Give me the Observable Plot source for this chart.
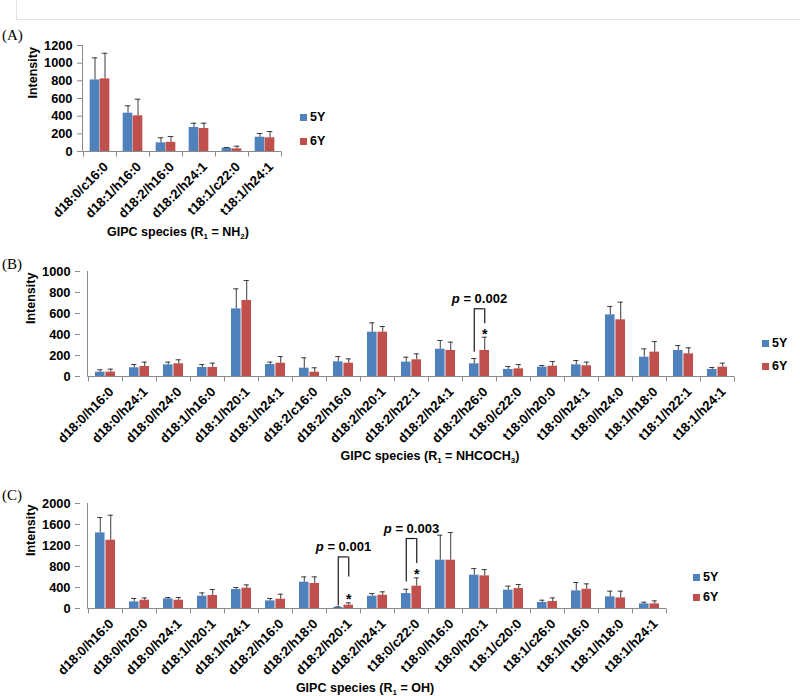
<!DOCTYPE html>
<html><head><meta charset="utf-8">
<script src="https://cdn.jsdelivr.net/npm/d3@7"></script>
<script src="https://cdn.jsdelivr.net/npm/@observablehq/plot@0.6"></script>
<style>
body{margin:0;background:#fff;}
#root{position:relative;width:800px;height:696px;overflow:hidden;font-family:"Liberation Sans",Arial,sans-serif;background:#fff;}
#root svg{position:absolute;left:0;overflow:visible;}
.plab{position:absolute;font-family:"Liberation Serif","Times New Roman",serif;font-size:15px;color:#000;transform:translateY(-50%);}
.xt{position:absolute;font-weight:bold;font-size:12.5px;transform:translate(-50%,-50%);white-space:nowrap;color:#000;}
.xt sub{font-size:8px;vertical-align:-3px;line-height:0;}
.leg{position:absolute;font-weight:bold;font-size:12.5px;display:flex;align-items:center;transform:translateY(-50%);color:#000;}
.leg i{display:inline-block;width:7px;height:7px;margin-right:3px;}
.hline{position:absolute;left:16px;top:19px;width:784px;height:1px;background:#e2e2e2;}
.vline{position:absolute;left:16px;top:0;width:1px;height:19px;background:#e2e2e2;}
</style></head>
<body><div id="root"></div>
<script>
// ---------- Data ----------
const series = ["5Y", "6Y"];

// (A) R1 = NH2
const catsA = ["d18:0/c16:0","d18:1/h16:0","d18:2/h16:0","d18:2/h24:1","t18:1/c22:0","t18:1/h24:1"];
const a5  = [810, 434, 98, 272, 37, 162];
const a5e = [250, 83, 57, 48, 8, 42];
const a6  = [822, 404, 104, 260, 30, 155];
const a6e = [290, 188, 66, 60, 30, 71];

// (B) R1 = NHCOCH3
const catsB = ["d18:0/h16:0","d18:0/h24:1","d18:0/h24:0","d18:1/h16:0","d18:1/h20:1","d18:1/h24:1","d18:2/c16:0","d18:2/h16:0","d18:2/h20:1","d18:2/h22:1","d18:2/h24:1","d18:2/h26:0","t18:0/c22:0","t18:0/h20:0","t18:0/h24:1","t18:0/h24:0","t18:1/h18:0","t18:1/h22:1","t18:1/h24:1"];
const b5  = [41, 83, 111, 86, 644, 114, 79, 140, 422, 137, 260, 121, 67, 89, 111, 587, 184, 248, 67];
const b5e = [23, 31, 26, 28, 191, 23, 99, 50, 89, 47, 83, 50, 28, 16, 41, 80, 79, 47, 19];
const b6  = [42, 95, 121, 86, 724, 127, 41, 127, 422, 159, 248, 248, 73, 98, 102, 540, 232, 216, 89];
const b6e = [28, 42, 38, 41, 190, 63, 42, 41, 54, 57, 79, 126, 41, 45, 35, 168, 101, 57, 38];
const annB = [{cat: "d18:2/h26:0", start: 231, top: 645, end: 502, p: "0.002"}];

// (C) R1 = OH
const catsC = ["d18:0/h16:0","d18:0/h20:0","d18:0/h24:1","d18:1/h20:1","d18:1/h24:1","d18:2/h16:0","d18:2/h18:0","d18:2/h20:1","d18:2/h24:1","t18:0/c22:0","t18:0/h16:0","t18:0/h20:1","t18:1/c20:0","t18:1/c26:0","t18:1/h16:0","t18:1/h18:0","t18:1/h24:1"];
const c5  = [1440, 126, 183, 234, 362, 145, 501, 19, 234, 285, 920, 634, 349, 114, 336, 222, 88];
const c5e = [293, 64, 26, 63, 38, 45, 101, 13, 51, 82, 476, 127, 76, 44, 159, 108, 32];
const c6  = [1301, 158, 158, 248, 387, 177, 476, 63, 253, 425, 920, 621, 380, 133, 367, 202, 88];
const c6e = [476, 44, 51, 114, 63, 95, 126, 44, 64, 158, 527, 121, 77, 69, 102, 128, 57];
const annC = [
  {cat: "d18:2/h20:1", start: 50, top: 983, end: 602, p: "0.001"},
  {cat: "t18:0/c22:0", start: 507, top: 1333, end: 857, p: "0.003"}
];

// ---------- Styles ----------
const BLUE = "#4F81BD", RED = "#C0504D", ERR = "#3c3c3c", AX = "#8a8a8a";
const FONT = "'Liberation Sans', Arial, sans-serif";
const root = document.getElementById("root");

function panel(cfg) {
  const {cats, v5, e5, v6, e6, yMax, yStep, left, right, top, frameTop, frameBottom, ann = []} = cfg;
  const H = 215;
  const w = (right - left) / cats.length;
  const rows = cats.map((c, i) => ({cat: c, v5: v5[i], e5: e5[i], v6: v6[i], e6: e6[i]}));
  const starRows = rows.filter(r => ann.some(a => a.cat === r.cat));
  const cap = 3;
  const axisLines = (index, {x, y}) => {
    const g = d3.create("svg:g").attr("stroke", AX).attr("fill", "none").attr("stroke-width", 1);
    const x0 = Math.round(x(cats[0])) - 0.5, x1 = x(cats[cats.length - 1]) + x.bandwidth();
    const y0 = Math.round(y(0)) + 0.5, yT = y(yMax);
    g.append("line").attr("x1", x0).attr("x2", x0).attr("y1", y0).attr("y2", yT);
    g.append("line").attr("x1", x0).attr("x2", x1).attr("y1", y0).attr("y2", y0);
    const bounds = cats.map(c => x(c)).concat([x1]);
    for (const b of bounds) {
      const bx = Math.round(b) + 0.5;
      g.append("line").attr("x1", bx).attr("x2", bx).attr("y1", y0).attr("y2", y0 + 5);
    }
    return g.node();
  };
  const svg = Plot.plot({
    width: 800, height: H,
    marginLeft: left, marginRight: 800 - right,
    marginTop: frameTop - top, marginBottom: top + H - frameBottom,
    style: {fontFamily: FONT, fontSize: "12.5px", fontWeight: "bold", color: "#000", background: "transparent", overflow: "visible"},
    x: {domain: cats, padding: 0},
    y: {domain: [0, yMax]},
    marks: [
      Plot.barY(rows, {x: "cat", y: "v5", fill: BLUE, insetLeft: 0.2 * w, insetRight: 0.5 * w}),
      Plot.barY(rows, {x: "cat", y: "v6", fill: RED, insetLeft: 0.5 * w, insetRight: 0.2 * w}),
      Plot.ruleX(rows, {x: "cat", y1: "v5", y2: d => d.v5 + d.e5, dx: -0.15 * w, stroke: ERR}),
      Plot.ruleX(rows, {x: "cat", y1: "v6", y2: d => d.v6 + d.e6, dx: 0.15 * w, stroke: ERR}),
      Plot.tickY(rows, {x: "cat", y: d => d.v5 + d.e5, insetLeft: 0.35 * w - cap, insetRight: 0.65 * w - cap, stroke: ERR}),
      Plot.tickY(rows, {x: "cat", y: d => d.v6 + d.e6, insetLeft: 0.65 * w - cap, insetRight: 0.35 * w - cap, stroke: ERR}),
      axisLines,
      Plot.axisY({ticks: d3.range(0, yMax + 1, yStep), tickSize: 5, tickPadding: 5, tickFormat: d => String(d), stroke: AX, fill: "#000", label: null, fontWeight: "bold", fontSize: 12.8}),
      Plot.axisX({tickRotate: -45, tickSize: 0, tickPadding: 13, dx: 6, label: null, fill: "#000", fontWeight: "bold", fontSize: 13.2}),
      Plot.text(["Intensity"], {frameAnchor: "left", rotate: -90, dx: -50, fontSize: 12.5, fontWeight: "bold"}),
      Plot.ruleX(ann, {x: "cat", y1: "start", y2: "top", dx: -0.15 * w, stroke: "#1a1a1a", strokeWidth: 1.2}),
      Plot.ruleX(ann, {x: "cat", y1: "end", y2: "top", dx: 0.15 * w, stroke: "#1a1a1a", strokeWidth: 1.2}),
      Plot.ruleY(ann, {x1: "cat", x2: "cat", y: "top", insetLeft: 0.35 * w, insetRight: 0.35 * w, stroke: "#1a1a1a", strokeWidth: 1.2}),
      Plot.text(ann, {x: "cat", y: "top", text: d => "p = " + d.p, dy: -10, fontSize: 13, fontWeight: "bold"}),
      Plot.text(starRows, {x: "cat", y: d => d.v6 + d.e6, text: () => "*", dx: 0.15 * w, dy: -3, fontSize: 14, fontWeight: "bold"})
    ]
  });
  svg.style.top = top + "px";
  // italic "p" in the p-value annotations
  svg.querySelectorAll("text").forEach(t => {
    if (t.textContent.startsWith("p = ")) {
      const rest = t.textContent.slice(1);
      t.textContent = "";
      const ts = document.createElementNS("http://www.w3.org/2000/svg", "tspan");
      ts.setAttribute("font-style", "italic");
      ts.textContent = "p";
      t.appendChild(ts);
      t.appendChild(document.createTextNode(rest));
    }
  });
  root.appendChild(svg);
}

panel({cats: catsA, v5: a5, e5: a5e, v6: a6, e6: a6e, yMax: 1200, yStep: 200, left: 82, right: 282, top: 20, frameTop: 45, frameBottom: 151});
panel({cats: catsB, v5: b5, e5: b5e, v6: b6, e6: b6e, yMax: 1000, yStep: 200, left: 80, right: 742, top: 240, frameTop: 271, frameBottom: 376, ann: annB});
panel({cats: catsC, v5: c5, e5: c5e, v6: c6, e6: c6e, yMax: 2000, yStep: 400, left: 80, right: 673, top: 470, frameTop: 503, frameBottom: 608, ann: annC});

// ---------- HTML text: panel letters, x titles, legends, page border ----------
function addHTML(cls, html, x, y) {
  const d = document.createElement("div");
  d.className = cls; d.innerHTML = html;
  d.style.left = x + "px"; d.style.top = y + "px";
  root.appendChild(d);
}
addHTML("hline", "", 16, 19);
addHTML("vline", "", 16, 0);
addHTML("plab", "(A)", 2, 35);
addHTML("plab", "(B)", 2, 264);
addHTML("plab", "(C)", 2, 495);
addHTML("xt", "GIPC species (R<sub>1</sub> = NH<sub>2</sub>)", 178, 232);
addHTML("xt", "GIPC species (R<sub>1</sub> = NHCOCH<sub>3</sub>)", 430, 456);
addHTML("xt", "GIPC species (R<sub>1</sub> = OH)", 365, 688);
const legends = [[300, 117, 141], [762, 343, 366], [693, 577, 597]];
for (const [lx, y5, y6] of legends) {
  addHTML("leg", `<i style="background:${BLUE}"></i>${series[0]}`, lx, y5);
  addHTML("leg", `<i style="background:${RED}"></i>${series[1]}`, lx, y6);
}
</script>
</body></html>
